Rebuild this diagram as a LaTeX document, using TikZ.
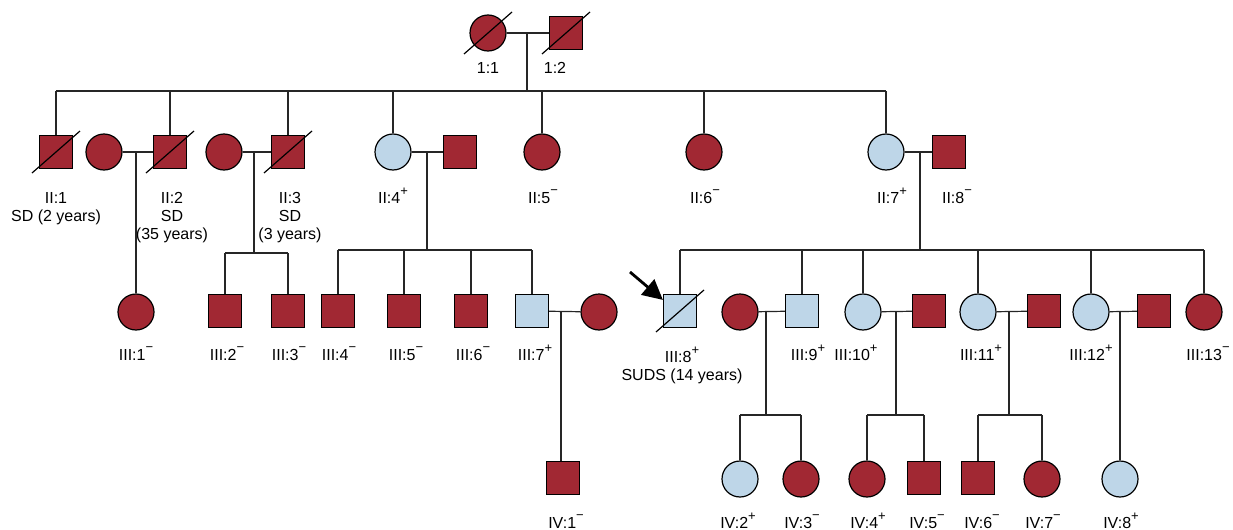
\documentclass[tikz,border=0pt]{standalone}
\usepackage{fontspec}
\setmainfont{Liberation Sans}
\usetikzlibrary{positioning, calc, arrows.meta}
\definecolor{affred}{RGB}{161,40,51}
\definecolor{carblue}{RGB}{190,214,232}
\newcommand{\cplus}{\raisebox{0.85ex}{\fontsize{6.5}{6}\selectfont +}}
\newcommand{\cminus}{\raisebox{0.95ex}{\fontsize{6.5}{6}\selectfont −}}

\begin{document}
\begin{tikzpicture}[
        x=0.5pt, y=-0.5pt,
        line width=0.6pt,
        male/.style={draw, rectangle, minimum size=16.5pt, inner sep=0pt},
        female/.style={draw, circle, minimum size=18pt, inner sep=0pt},
        aff/.style={fill=affred},
        car/.style={fill=carblue},
        lab/.style={anchor=base, align=center, inner sep=0pt, font=\fontsize{8}{9}\selectfont},
        link/.style={draw=black!85}
    ]
        \useasboundingbox (0,0) rectangle (1233,530);

        % Generation I
        \node[female, aff] (i1) at (488,33) {};
        \node[male, aff] (i2) at (566,33) {};
        \node[lab] (li1) at (488,73) {1:1};
        \node[lab] (li2) at (555,73) {1:2};

        % Generation II
        \node[male, aff] (ii1) at (56,152) {};
        \node[female, aff] (w2) at (104,152) {};
        \node[male, aff] (ii2) at (170,152) {};
        \node[female, aff] (w3) at (224,152) {};
        \node[male, aff] (ii3) at (288,152) {};
        \node[female, car] (ii4) at (393,152) {};
        \node[male, aff] (h4) at (460,152) {};
        \node[female, aff] (ii5) at (542,152) {};
        \node[female, aff] (ii6) at (704,152) {};
        \node[female, car] (ii7) at (886,152) {};
        \node[male, aff] (ii8) at (949,152) {};

        % (multi-line labels sit on the baseline of their last line)
        \node[lab] (lii1) at (56,221) {II:1\\SD (2 years)};
        \node[lab] (lii2) at (172,239) {II:2\\SD\\(35 years)};
        \node[lab] (lii3) at (290,239) {II:3\\SD\\(3 years)};
        \node[lab] (lii4) at (393,203) {II:4\cplus};
        \node[lab] (lii5) at (543,203) {II:5\cminus};
        \node[lab] (lii6) at (705,203) {II:6\cminus};
        \node[lab] (lii7) at (892,203) {II:7\cplus};
        \node[lab] (lii8) at (957,203) {II:8\cminus};

        % Generation III
        \node[female, aff] (iii1) at (136,312) {};
        \node[male, aff] (iii2) at (225,311) {};
        \node[male, aff] (iii3) at (288,311) {};
        \node[male, aff] (iii4) at (338,311) {};
        \node[male, aff] (iii5) at (404,311) {};
        \node[male, aff] (iii6) at (471,311) {};
        \node[male, car] (iii7) at (532,311) {};
        \node[female, aff] (w7) at (599,312) {};
        \node[male, car] (iii8) at (680,311) {};
        \node[female, aff] (w9) at (740,312) {};
        \node[male, car] (iii9) at (802,311) {};
        \node[female, car] (iii10) at (863,312) {};
        \node[male, aff] (h10) at (929,311) {};
        \node[female, car] (iii11) at (978,312) {};
        \node[male, aff] (h11) at (1044,311) {};
        \node[female, car] (iii12) at (1091,312) {};
        \node[male, aff] (h12) at (1154,311) {};
        \node[female, aff] (iii13) at (1204,312) {};

        \node[lab] (liii1) at (136,360) {III:1\cminus};
        \node[lab] (liii2) at (227,360) {III:2\cminus};
        \node[lab] (liii3) at (289,360) {III:3\cminus};
        \node[lab] (liii4) at (339,360) {III:4\cminus};
        \node[lab] (liii5) at (406,360) {III:5\cminus};
        \node[lab] (liii6) at (473,360) {III:6\cminus};
        \node[lab] (liii7) at (535,360) {III:7\cplus};
        \node[lab] (liii8) at (682,380) {III:8\cplus\\SUDS (14 years)};
        \node[lab] (liii9) at (808,360) {III:9\cplus};
        \node[lab] (liii10) at (856,360) {III:10\cplus};
        \node[lab] (liii11) at (981,360) {III:11\cplus};
        \node[lab] (liii12) at (1091,360) {III:12\cplus};
        \node[lab] (liii13) at (1208,360) {III:13\cminus};

        % Generation IV
        \node[male, aff] (iv1) at (563,478) {};
        \node[female, car] (iv2) at (740,479) {};
        \node[female, aff] (iv3) at (801,479) {};
        \node[female, aff] (iv4) at (867,479) {};
        \node[male, aff] (iv5) at (924,478) {};
        \node[male, aff] (iv6) at (978,478) {};
        \node[female, aff] (iv7) at (1042,479) {};
        \node[female, car] (iv8) at (1120,479) {};

        \node[lab] (liv1) at (566,528) {IV:1\cminus};
        \node[lab] (liv2) at (738,528) {IV:2\cplus};
        \node[lab] (liv3) at (802,528) {IV:3\cminus};
        \node[lab] (liv4) at (868,528) {IV:4\cplus};
        \node[lab] (liv5) at (927,528) {IV:5\cminus};
        \node[lab] (liv6) at (982,528) {IV:6\cminus};
        \node[lab] (liv7) at (1043,528) {IV:7\cminus};
        \node[lab] (liv8) at (1121,528) {IV:8\cplus};

        % Couples and descent points
        \coordinate (m1) at (527,33);
        \coordinate (m2) at (136,152);
        \coordinate (m3) at (254,152);
        \coordinate (m4) at (427,152);
        \coordinate (m7) at (920,152);
        \coordinate (m37) at (561,312);
        \coordinate (m39) at (766,312);
        \coordinate (m310) at (896,312);
        \coordinate (m311) at (1009,312);
        \coordinate (m312) at (1120,312);
        \coordinate (s1) at (0,91);
        \coordinate (s3) at (0,253);
        \coordinate (s4) at (0,250);
        \coordinate (s7) at (0,250);
        \coordinate (s39) at (0,415);

        % Edges
        \draw[link] (i1) -- (i2);
        \draw[link] (w2) -- (ii2);
        \draw[link] (w3) -- (ii3);
        \draw[link] (ii4) -- (h4);
        \draw[link] (ii7) -- (ii8);
        \draw[link] (iii7) -- (w7);
        \draw[link] (w9) -- (iii9);
        \draw[link] (iii10) -- (h10);
        \draw[link] (iii11) -- (h11);
        \draw[link] (iii12) -- (h12);

        % Generation I to II
        \draw[link] (m1) -- (m1 |- s1);
        \draw[link] (ii1.north |- s1) -- (ii7.north |- s1);
        \foreach \n in {ii1,ii2,ii3,ii4,ii5,ii6,ii7}
            \draw[link] (\n.north) -- (\n.north |- s1);

        % Generation II to III
        \draw[link] (m2) -- (iii1.north);
        \draw[link] (m3) -- (m3 |- s3);
        \draw[link] (iii2.north |- s3) -- (iii3.north |- s3);
        \foreach \n in {iii2,iii3}
            \draw[link] (\n.north) -- (\n.north |- s3);
        \draw[link] (m4) -- (m4 |- s4);
        \draw[link] (iii4.north |- s4) -- (iii7.north |- s4);
        \foreach \n in {iii4,iii5,iii6,iii7}
            \draw[link] (\n.north) -- (\n.north |- s4);
        \draw[link] (m7) -- (m7 |- s7);
        \draw[link] (iii8.north |- s7) -- (iii13.north |- s7);
        \foreach \n in {iii8,iii9,iii10,iii11,iii12,iii13}
            \draw[link] (\n.north) -- (\n.north |- s7);

        % Generation III to IV
        \draw[link] (m37) -- (m37 |- iv1.north);
        \foreach \m in {m39,m310,m311}
            \draw[link] (\m) -- (\m |- s39);
        \draw[link] (iv2.north |- s39) -- (iv3.north |- s39);
        \draw[link] (iv4.north |- s39) -- (iv5.north |- s39);
        \draw[link] (iv6.north |- s39) -- (iv7.north |- s39);
        \foreach \n in {iv2,iv3,iv4,iv5,iv6,iv7}
            \draw[link] (\n.north) -- (\n.north |- s39);
        \draw[link] (m312) -- (iv8.north);

        % Deceased
        \foreach \n in {i1,i2,ii1,ii2,ii3,iii8}
            \draw ($(\n)+(-24,21)$) -- ($(\n)+(24,-21)$);

        % Proband
        \coordinate (ptail) at (630,272);
        \draw[-{Triangle[length=10pt,width=10pt]}, line width=1.4pt] (ptail) -- ($(iii8.north west)+(0,6)$);
    \end{tikzpicture}
\end{document}
